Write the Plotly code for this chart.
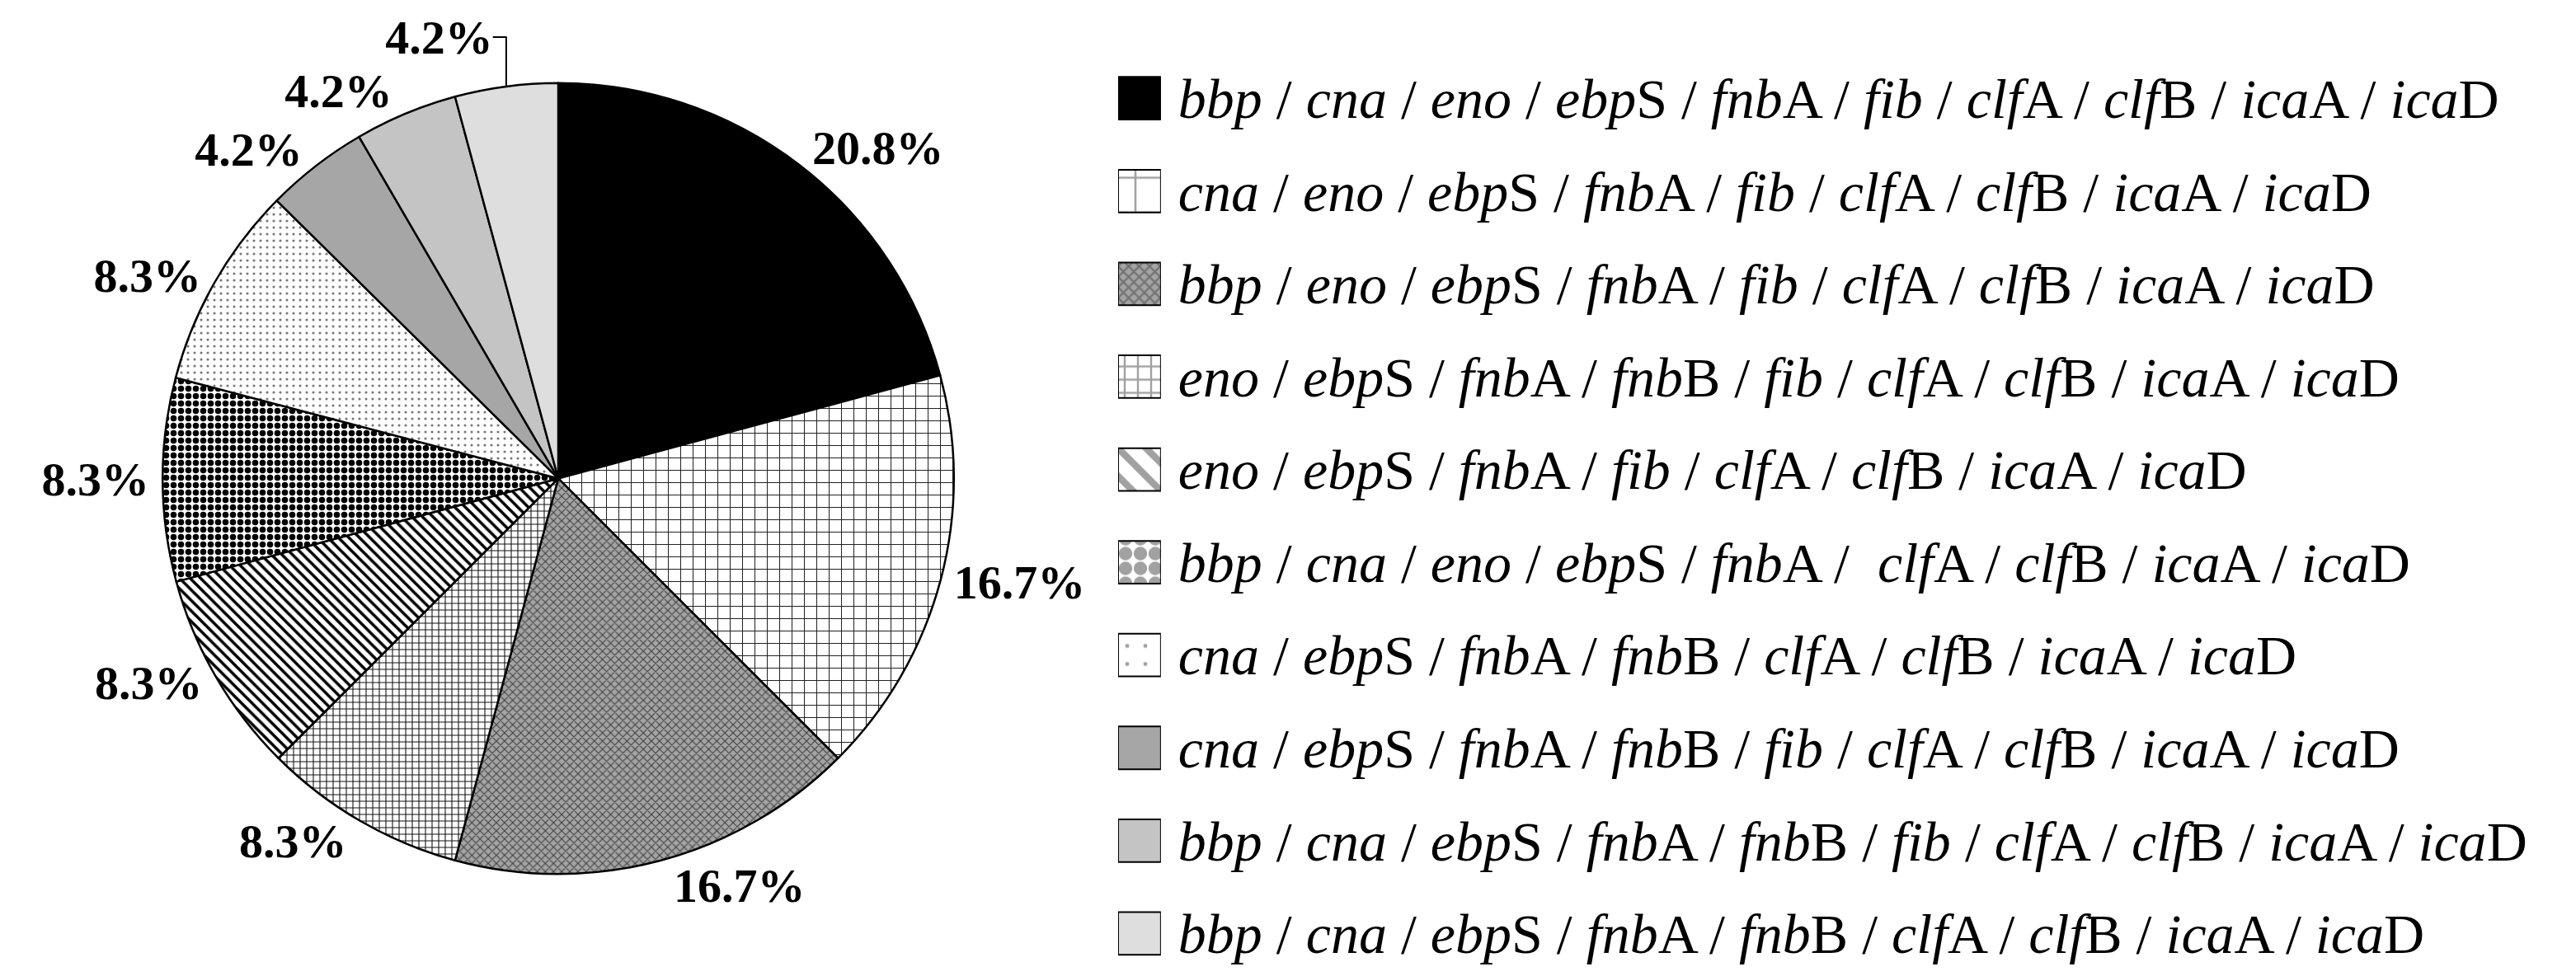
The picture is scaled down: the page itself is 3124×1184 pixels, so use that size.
import plotly.graph_objects as go

# gene profiles (legend order = slice order, clockwise from 12 o'clock)
profiles = [
    "<i>bbp</i> / <i>cna</i> / <i>eno</i> / <i>ebp</i>S / <i>fnb</i>A / <i>fib</i> / <i>clf</i>A / <i>clf</i>B / <i>ica</i>A / <i>ica</i>D",
    "<i>cna</i> / <i>eno</i> / <i>ebp</i>S / <i>fnb</i>A / <i>fib</i> / <i>clf</i>A / <i>clf</i>B / <i>ica</i>A / <i>ica</i>D",
    "<i>bbp</i> / <i>eno</i> / <i>ebp</i>S / <i>fnb</i>A / <i>fib</i> / <i>clf</i>A / <i>clf</i>B / <i>ica</i>A / <i>ica</i>D",
    "<i>eno</i> / <i>ebp</i>S / <i>fnb</i>A / <i>fnb</i>B / <i>fib</i> / <i>clf</i>A / <i>clf</i>B / <i>ica</i>A / <i>ica</i>D",
    "<i>eno</i> / <i>ebp</i>S / <i>fnb</i>A / <i>fib</i> / <i>clf</i>A / <i>clf</i>B / <i>ica</i>A / <i>ica</i>D",
    "<i>bbp</i> / <i>cna</i> / <i>eno</i> / <i>ebp</i>S / <i>fnb</i>A /  <i>clf</i>A / <i>clf</i>B / <i>ica</i>A / <i>ica</i>D",
    "<i>cna</i> / <i>ebp</i>S / <i>fnb</i>A / <i>fnb</i>B / <i>clf</i>A / <i>clf</i>B / <i>ica</i>A / <i>ica</i>D",
    "<i>cna</i> / <i>ebp</i>S / <i>fnb</i>A / <i>fnb</i>B / <i>fib</i> / <i>clf</i>A / <i>clf</i>B / <i>ica</i>A / <i>ica</i>D",
    "<i>bbp</i> / <i>cna</i> / <i>ebp</i>S / <i>fnb</i>A / <i>fnb</i>B / <i>fib</i> / <i>clf</i>A / <i>clf</i>B / <i>ica</i>A / <i>ica</i>D",
    "<i>bbp</i> / <i>cna</i> / <i>ebp</i>S / <i>fnb</i>A / <i>fnb</i>B / <i>clf</i>A / <i>clf</i>B / <i>ica</i>A / <i>ica</i>D",
]
percent = [20.8, 16.7, 16.7, 8.3, 8.3, 8.3, 8.3, 4.2, 4.2, 4.2]

# fills (black & white hatching like the original)
colors = ["#000000", "#ffffff", "#a4a4a4", "#ffffff", "#ffffff",
          "#ffffff", "#ffffff", "#a6a6a6", "#c4c4c4", "#dedede"]
shapes = ["", "+", "x", "+", "\\", ".", ".", "", "", ""]
fg = ["#000000", "#222222", "#404040", "#111111", "#000000",
      "#000000", "#777777", "#000000", "#000000", "#000000"]
psize = [10, 15, 7, 8, 9, 9, 8, 10, 10, 10]
solid = [0.3, 0.13, 0.3, 0.25, 0.4, 0.55, 0.12, 0.3, 0.3, 0.3]

# the key swatches are small, so the hatching there is coarser
key_size = [40, 42, 9, 16, 24, 18, 22, 40, 40, 40]
key_solid = [0.3, 0.12, 0.45, 0.28, 0.35, 0.65, 0.04, 0.3, 0.3, 0.3]

fig = go.Figure()

fig.add_trace(go.Pie(
    labels=profiles, values=percent, sort=False, direction="clockwise",
    marker=dict(colors=colors,
                pattern=dict(shape=shapes, bgcolor=colors, fgcolor=fg, size=psize,
                             solidity=solid, fillmode="replace"),
                line=dict(color="black", width=2.5)),
    texttemplate="%{percent:.1%}", textposition="outside",
    textfont=dict(family="Liberation Serif", size=58, color="black", weight="bold"),
    domain=dict(x=[0.0595, 0.3688], y=[0.112, 0.928]),
    showlegend=False, hoverinfo="label+percent",
))

# key: one swatch per profile
swatch = [1] * len(profiles)
fig.add_trace(go.Bar(
    x=swatch, y=profiles, orientation="h", width=0.46,
    marker=dict(color=colors,
                pattern=dict(shape=shapes, fgcolor=fg, size=key_size,
                             solidity=key_solid, fillmode="overlay"),
                line=dict(color="black", width=2)),
    showlegend=False, hoverinfo="y",
))

fig.update_layout(
    width=3124, height=1184,
    margin=dict(l=0, r=0, t=0, b=0),
    paper_bgcolor="white", plot_bgcolor="white",
    xaxis=dict(domain=[0.4315, 0.4481], range=[0, 1], visible=False, fixedrange=True),
    yaxis=dict(domain=[0.0076, 0.9553], type="category", range=[9.45, -0.45],
               side="right", showgrid=False, zeroline=False, showline=False,
               ticks="", ticklabelstandoff=20,
               tickfont=dict(family="Liberation Serif", size=68, color="black")),
)

fig.write_html("out.html")
